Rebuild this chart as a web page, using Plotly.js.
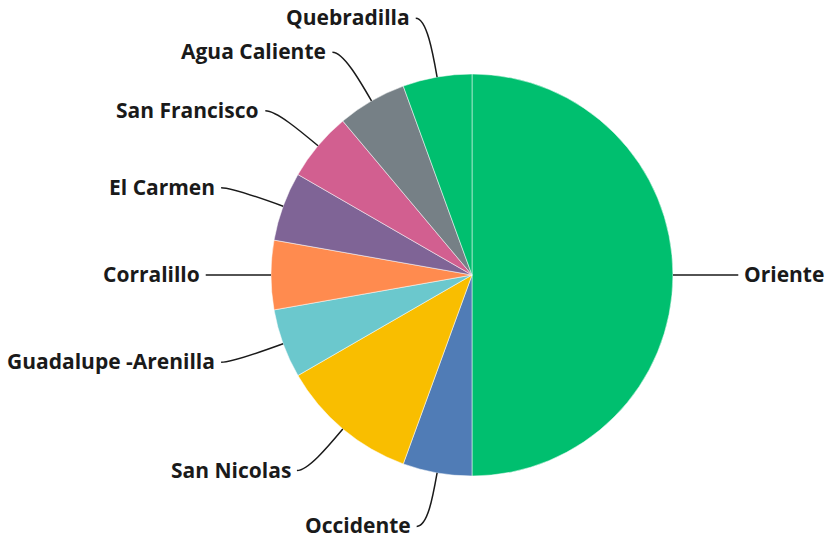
<!DOCTYPE html>
<html>
<head>
<meta charset="utf-8">
<script src="https://cdn.plot.ly/plotly-3.0.1.min.js"></script>
<style>html,body{margin:0;padding:0;background:#fff}#chart{width:826px;height:539px}</style>
</head>
<body>
<div id="chart"></div>
<script>
var labels = ["Oriente", "Occidente", "San Nicolas", "Guadalupe -Arenilla", "Corralillo", "El Carmen", "San Francisco", "Agua Caliente", "Quebradilla"];
var values = [9, 1, 2, 1, 1, 1, 1, 1, 1];
var colors = ["#00bf6f", "#507cb6", "#f9be00", "#6bc8cd", "#ff8b4f", "#7f6496", "#d25f90", "#768086", "#00bf6f"];

var W = 826, H = 539;
var cx = 472, cy = 275, R = 201;
var dom = {x: [(cx - R) / W, (cx + R) / W], y: [1 - (cy + R) / H, 1 - (cy - R) / H]};

var total = values.reduce(function (a, b) { return a + b; }, 0);
var shapes = [], annotations = [];
var cum = 0;
var font = {family: "Open Sans, sans-serif", size: 21, color: "#1a1a1a"};
function px(x) { return x / W; }
function py(y) { return 1 - y / H; }
for (var i = 0; i < values.length; i++) {
  var mid = (cum + values[i] / 2) / total * 2 * Math.PI;
  cum += values[i];
  var s = Math.sin(mid), c = -Math.cos(mid);
  var right = s > 0.001;
  var dir = right ? 1 : -1;
  var up = Math.max(0, -c);
  var f = 1.27 + 0.03 * Math.pow(up, 8);
  var p0 = [cx + R * s, cy + R * c];
  var p1 = [cx + 1.12 * R * s, cy + 1.12 * R * c];
  var p2 = [cx + f * R * s, cy + f * R * c];
  var p3 = [p2[0] + dir * 11, p2[1]];
  var path = "M " + px(p0[0]) + "," + py(p0[1]) + " C " + px(p1[0]) + "," + py(p1[1]) + " " +
    px(p2[0]) + "," + py(p2[1]) + " " + px(p3[0]) + "," + py(p3[1]);
  shapes.push({type: "path", xref: "paper", yref: "paper", path: path,
    line: {color: "#1a1a1a", width: 1.5}});
  annotations.push({xref: "paper", yref: "paper", x: px(p3[0] + dir * 4), y: py(p3[1] - 1),
    xanchor: right ? "left" : "right", yanchor: "middle", showarrow: false,
    text: "<b>" + labels[i] + "</b>", font: font});
}

var data = [{
  type: "pie", labels: labels, values: values, sort: false, direction: "clockwise", rotation: 0,
  marker: {colors: colors, line: {color: "#ffffff", width: 0.5}},
  textinfo: "none", domain: dom, showlegend: false
}];
var layout = {
  width: W, height: H, margin: {l: 0, r: 0, t: 0, b: 0},
  paper_bgcolor: "#ffffff", showlegend: false,
  shapes: shapes, annotations: annotations
};
Plotly.newPlot("chart", data, layout, {displayModeBar: false, staticPlot: true});
</script>
</body>
</html>
